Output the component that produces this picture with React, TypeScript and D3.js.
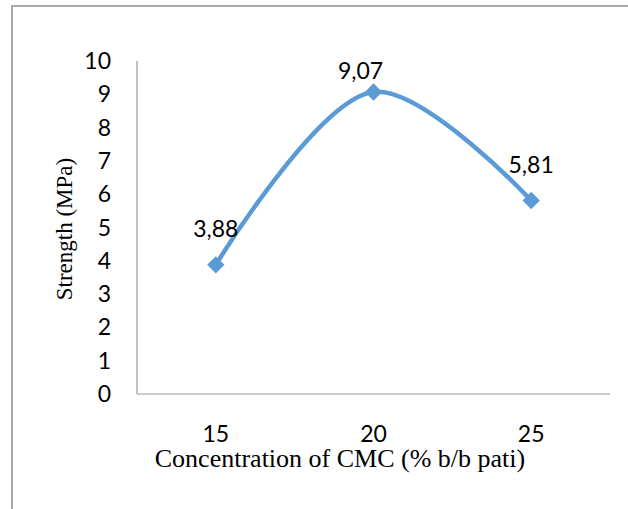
import React from "react";
import * as d3 from "d3";

const categories = ["15", "20", "25"];
const strength = [3.88, 9.07, 5.81];
const valueLabels = ["3,88", "9,07", "5,81"];
const yTicks = [0, 1, 2, 3, 4, 5, 6, 7, 8, 9, 10];
const xTitle = "Concentration of CMC (% b/b pati)";
const yTitle = "Strength (MPa)";

const W = 628;
const H = 509;
const plot = { left: 137, right: 610, top: 61, bottom: 394 };
const sans = "Lato, 'Open Sans', sans-serif";
const serif = "'Liberation Serif', 'Times New Roman', serif";
const blue = "#5B9BD5";

export default function App() {
  const x = d3
    .scaleBand<string>()
    .domain(categories)
    .range([plot.left, plot.right]);
  const y = d3.scaleLinear().domain([0, 10]).range([plot.bottom, plot.top]);
  const cx = (c: string) => (x(c) as number) + x.bandwidth() / 2;

  const pts: [number, number][] = categories.map((c, i) => [cx(c), y(strength[i])]);
  const line = d3.line().curve(d3.curveCatmullRom.alpha(0.5))(pts) as string;
  const marker = d3.symbol().type(d3.symbolSquare).size(150)() as string;

  // manual label nudges (as in the original, the middle label is moved)
  const labelShift: Record<number, [number, number]> = { 1: [-13, 15] };

  return (
    <svg
      width={W}
      height={H}
      style={{ position: "absolute", left: 0, top: 0, background: "#fff" }}
    >
      <rect x={0} y={0} width={W} height={H} fill="#fff" />
      <rect x={12} y={6} width={W + 50} height={H + 50} fill="none" stroke="#A9A9A9" strokeWidth={2} />

      {/* axes */}
      <line x1={plot.left} x2={plot.left} y1={plot.top} y2={plot.bottom} stroke="#9a9a9a" strokeWidth={1.2} />
      <line x1={plot.left} x2={plot.right} y1={plot.bottom} y2={plot.bottom} stroke="#9a9a9a" strokeWidth={1.2} />

      {yTicks.map((t) => (
        <text key={t} x={111} y={y(t) + 8} textAnchor="end" fontFamily={sans} fontSize={23} fill="#000">
          {t}
        </text>
      ))}
      {categories.map((c) => (
        <text key={c} x={cx(c)} y={442} textAnchor="middle" fontFamily={sans} fontSize={23} fill="#000">
          {c}
        </text>
      ))}

      <text x={340} y={467} textAnchor="middle" fontFamily={serif} fontSize={26} fill="#000">
        {xTitle}
      </text>
      <text
        transform={`translate(72, 229) rotate(-90)`}
        textAnchor="middle"
        fontFamily={serif}
        fontSize={23}
        fill="#000"
      >
        {yTitle}
      </text>

      <path d={line} fill="none" stroke={blue} strokeWidth={4.5} strokeLinecap="round" />
      {pts.map(([px, py], i) => (
        <path key={i} d={marker} transform={`translate(${px},${py}) rotate(45)`} fill={blue} />
      ))}
      {pts.map(([px, py], i) => {
        const [dx, dy] = labelShift[i] || [0, 0];
        return (
          <text
            key={i}
            x={px + dx}
            y={py - 28 + dy}
            textAnchor="middle"
            fontFamily={sans}
            fontSize={23}
            fill="#000"
          >
            {valueLabels[i]}
          </text>
        );
      })}
    </svg>
  );
}
